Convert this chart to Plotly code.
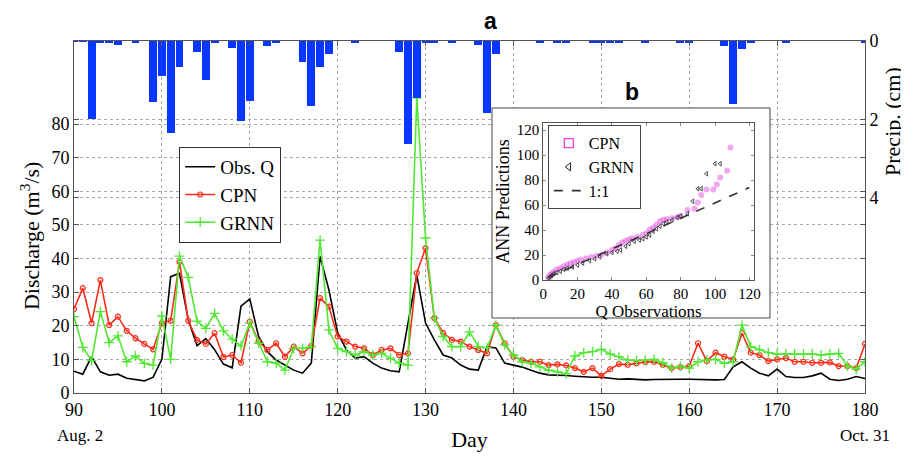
import plotly.graph_objects as go

# ---------------- data ----------------
days = list(range(90, 181))

obs_q = [6.5, 5.6, 10.8, 6.3, 5.3, 5.6, 4.4, 4.1, 3.6, 4.7,
         10.0, 34.6, 35.6, 21.8, 14.1, 16.2, 12.9, 8.6, 7.5, 25.8,
         28.0, 16.8, 12.3, 9.8, 8.3, 6.8, 5.9, 8.9, 40.6, 30.7,
         17.9, 12.8, 10.4, 10.8, 8.9, 7.4, 6.6, 6.3, 20.8, 35.1,
         20.8, 15.8, 11.3, 10.4, 8.3, 7.1, 6.8, 13.8, 13.4, 8.9,
         8.3, 7.7, 6.8, 5.9, 5.4, 5.4, 5.2, 5.0, 4.8, 4.7,
         4.7, 4.4, 4.1, 4.2, 4.0, 3.9, 4.0, 4.1, 4.1, 4.1,
         4.1, 4.0, 4.0, 3.9, 4.0, 7.8, 9.3, 7.4, 5.9, 5.1,
         7.1, 4.9, 4.6, 4.6, 5.1, 5.9, 4.1, 3.7, 4.1, 4.9,
         4.3]

cpn = [25.0, 31.2, 20.8, 33.6, 20.2, 22.7, 18.5, 16.3, 14.6, 13.0,
       20.8, 21.5, 39.0, 21.5, 15.8, 14.6, 17.8, 10.7, 11.3, 9.0,
       21.2, 15.3, 12.8, 14.8, 10.8, 13.8, 11.8, 14.0, 28.2, 25.7,
       16.8, 15.3, 13.8, 13.3, 11.3, 12.8, 13.3, 11.3, 11.8, 35.7,
       43.1, 22.3, 17.9, 15.8, 15.3, 13.8, 12.8, 11.8, 20.2, 14.8,
       10.8, 9.8, 9.3, 9.3, 8.3, 8.5, 8.2, 7.4, 6.3, 7.4,
       5.1, 7.1, 8.6, 8.4, 8.8, 9.2, 9.3, 8.4, 7.4, 7.7,
       8.0, 14.8, 9.5, 12.0, 10.8, 10.0, 17.8, 12.0, 11.3, 9.5,
       10.0, 10.4, 9.3, 9.3, 9.0, 9.0, 9.1, 8.0, 8.0, 7.4,
       14.6]

grnn = [22.7, 13.6, 9.6, 24.2, 15.0, 17.0, 9.3, 11.0, 8.8, 8.3,
        22.9, 10.0, 40.7, 34.4, 21.4, 19.2, 23.7, 18.5, 16.0, 14.0,
        20.8, 14.8, 9.3, 8.9, 6.8, 13.3, 13.3, 13.7, 45.5, 18.8,
        13.3, 12.3, 11.3, 12.3, 11.3, 11.8, 10.4, 8.9, 8.3, 87.8,
        46.1, 22.3, 16.8, 13.8, 13.8, 18.2, 13.8, 13.4, 20.2, 14.3,
        11.3, 9.3, 8.9, 7.8, 6.8, 6.3, 5.7, 11.0, 12.0, 12.3,
        13.0, 11.6, 10.8, 9.8, 9.6, 9.8, 10.0, 9.0, 7.4, 7.9,
        7.4, 9.3, 9.8, 10.0, 8.8, 9.3, 20.2, 13.8, 12.8, 12.0,
        11.6, 11.6, 11.6, 11.6, 11.6, 11.3, 11.6, 11.8, 8.0, 7.1,
        9.3]

precip = [0.02, 0.02, 2.0, 0.03, 0.03, 0.10, 0.0, 0.03, 0.0, 1.55,
          0.89, 2.36, 0.67, 0.0, 0.29, 1.0, 0.04, 0.0, 0.17, 2.05,
          1.53, 0.0, 0.13, 0.05, 0.0, 0.0, 0.53, 1.67, 0.67, 0.34,
          0.0, 0.0, 0.04, 0.0, 0.0, 0.0, 0.0, 0.27, 2.64, 1.47,
          0.04, 0.04, 0.0, 0.04, 0.0, 0.0, 0.09, 1.85, 0.33, 0.0,
          0.0, 0.0, 0.0, 0.03, 0.0, 0.03, 0.03, 0.0, 0.0, 0.03,
          0.03, 0.03, 0.03, 0.0, 0.0, 0.03, 0.0, 0.0, 0.0, 0.03,
          0.03, 0.0, 0.0, 0.0, 0.13, 1.62, 0.21, 0.03, 0.0, 0.0,
          0.0, 0.03, 0.0, 0.0, 0.0, 0.0, 0.0, 0.0, 0.0, 0.0,
          0.03]

x_ticks = list(range(90, 181, 10))
q_ticks = list(range(0, 81, 10))
p_ticks = [0, 2, 4]

# inset (b): Q-Q comparison
cpn_obs = [3, 4, 5, 6, 8, 10, 12, 14, 16, 18, 20, 22, 25, 28, 31, 34, 37, 40, 42, 44,
           46, 48, 50, 52, 55, 58, 60, 62, 64, 66, 68, 70, 72, 75, 78, 80, 84, 88, 90, 92,
           95, 99, 101, 103, 107, 109]
cpn_pred = [2.5, 4, 5, 6.5, 8.5, 9.5, 11, 12.5, 13.5, 14.5, 15.5, 16.3, 17.5, 18.5, 19.5, 20.5,
            22, 24, 25.5, 28, 30, 31.5, 32.5, 33.5, 34.5, 36, 37.5, 40.5, 42, 44.5, 47, 48.3,
            48.8, 49.5, 50.5, 51.5, 56, 57, 62, 68, 72.5, 72.5, 76.5, 82, 87.5, 106]
grnn_obs = [3, 4, 5, 6, 8, 10, 12, 14, 17, 20, 23, 27, 30, 33, 37, 40, 43, 45, 48, 50,
            53, 56, 58, 60, 62, 64, 66, 68, 70, 72, 75, 78, 80, 84, 87, 90, 92, 95, 100, 103]
grnn_pred = [1.5, 2.5, 3.5, 5, 6, 7, 8.5, 9.5, 10.5, 12, 13.5, 15.5, 17, 18.5, 21, 22, 23, 24,
             27, 29, 31, 32, 33, 34.5, 36, 39, 41, 43, 45, 46.5, 48, 50, 51, 53, 63, 73, 73,
             85, 93, 93]
ref_x = [3, 120]
ref_y = [2, 74]
inset_ticks = list(range(0, 121, 20))

# ---------------- style ----------------
SERIF = "Liberation Serif, Times New Roman, serif"
SANS = "Liberation Sans, Arial, sans-serif"
RED = "rgb(250,45,25)"
GREEN = "rgb(80,232,50)"
BLUE = "rgb(10,55,255)"
GRID = "#a8a8a8"
FRAME = "#555555"

fig = go.Figure()

fig.add_trace(go.Bar(x=days, y=precip, yaxis="y2", marker=dict(color=BLUE, line=dict(width=0)),
                     width=0.9, showlegend=False))

fig.add_trace(go.Scatter(x=days, y=obs_q, mode="lines", name="Obs. Q",
                         line=dict(color="black", width=1.6)))
fig.add_trace(go.Scatter(x=days, y=cpn, mode="lines+markers", name="CPN",
                         line=dict(color=RED, width=1.6),
                         marker=dict(symbol="circle-open", size=5, color=RED, line=dict(width=1.2))))
fig.add_trace(go.Scatter(x=days, y=grnn, mode="lines+markers", name="GRNN",
                         line=dict(color=GREEN, width=1.6),
                         marker=dict(symbol="cross-thin", size=7, color=GREEN,
                                     line=dict(width=1.3, color=GREEN))))

# inset traces
fig.add_trace(go.Scatter(x=cpn_obs, y=cpn_pred, mode="markers", xaxis="x3", yaxis="y3",
                         marker=dict(symbol="circle", size=6, color="rgba(225,80,225,0.5)"),
                         showlegend=False))
fig.add_trace(go.Scatter(x=grnn_obs, y=grnn_pred, mode="markers", xaxis="x3", yaxis="y3",
                         marker=dict(symbol="triangle-left-open", size=4, color="rgba(40,40,40,0.8)",
                                     line=dict(width=1)),
                         showlegend=False))
# legend entries for inset
fig.add_trace(go.Scatter(x=[None], y=[None], mode="markers", xaxis="x3", yaxis="y3", name="CPN",
                         marker=dict(symbol="square-open", size=9, color="rgb(255,60,220)",
                                     line=dict(width=1.3)), legend="legend2"))
fig.add_trace(go.Scatter(x=[None], y=[None], mode="markers", xaxis="x3", yaxis="y3", name="GRNN",
                         marker=dict(symbol="triangle-left-open", size=7, color="#222222",
                                     line=dict(width=1)), legend="legend2"))
fig.add_trace(go.Scatter(x=ref_x, y=ref_y, mode="lines", xaxis="x3", yaxis="y3", name="1:1",
                         line=dict(color="#333333", width=1.6, dash="dash"), legend="legend2"))

axis_common = dict(showline=True, linecolor=FRAME, linewidth=1, ticks="inside", ticklen=5,
                   tickcolor=FRAME, mirror="ticks", zeroline=False)

fig.update_layout(
    width=909, height=458,
    margin=dict(l=66, r=52, t=33, b=73, autoexpand=False),
    paper_bgcolor="white", plot_bgcolor="white",
    font=dict(family=SERIF, color="black", size=18),
    bargap=0,
    xaxis=dict(range=[90, 180], tickvals=x_ticks, showgrid=True, gridcolor=GRID, griddash="dot",
               gridwidth=1, tickfont=dict(size=18),
               title=dict(text="Day", font=dict(size=22), standoff=13), **axis_common),
    yaxis=dict(range=[0, 104.7], tickvals=q_ticks, showgrid=True, gridcolor=GRID, griddash="dot",
               gridwidth=1, tickfont=dict(size=18), **axis_common),
    yaxis2=dict(overlaying="y", side="right", range=[9.0, 0], tickvals=p_ticks, showgrid=True,
                gridcolor=GRID, griddash="dot", gridwidth=1, tickfont=dict(size=18),
                **axis_common),
    xaxis3=dict(domain=[0.5932, 0.8597], anchor="y3", range=[0, 122.7], tickvals=inset_ticks,
                showgrid=False, tickfont=dict(size=15), ticklen=3,
                title=dict(text="Q Observations", font=dict(size=17), standoff=0),
                showline=True, linecolor=FRAME, ticks="inside", tickcolor="#888", mirror="ticks",
                zeroline=False),
    yaxis3=dict(domain=[0.321, 0.767], anchor="x3", range=[0, 125.6], tickvals=inset_ticks,
                showgrid=False, tickfont=dict(size=15), ticklen=3,
                title=dict(text="ANN Predictions", font=dict(size=18), standoff=2),
                showline=True, linecolor=FRAME, ticks="inside", tickcolor="#888", mirror="ticks",
                zeroline=False),
    legend=dict(x=0.133, y=0.699, xanchor="left", yanchor="top", bgcolor="white",
                bordercolor="#333333", borderwidth=1, font=dict(family=SERIF, size=19),
                tracegroupgap=0),
    legend2=dict(x=0.599, y=0.761, xanchor="left", yanchor="top", bgcolor="white",
                 bordercolor="#444444", borderwidth=1, font=dict(family=SERIF, size=16),
                 tracegroupgap=0, traceorder="normal"),
    shapes=[dict(type="rect", xref="x", yref="y", x0=137.56, x1=169.19,
                 y0=22.31, y1=84.78, fillcolor="white", line=dict(color="#444444", width=1),
                 layer="between")],
    annotations=[
        dict(text="<b>a</b>", xref="paper", yref="paper", x=0.526, y=1.09375, showarrow=False,
             font=dict(family=SANS, size=23), xanchor="center", yanchor="top",
             borderpad=0, borderwidth=0),
        dict(text="<b>b</b>", xref="paper", yref="paper", x=0.706, y=0.855, showarrow=False,
             font=dict(family=SANS, size=23), xanchor="center", yanchor="middle"),
        dict(text="Aug. 2", xref="x", yref="paper", x=90, y=-0.122, xshift=6, showarrow=False,
             font=dict(family=SERIF, size=17), xanchor="center", yanchor="middle"),
        dict(text="Oct. 31", xref="x", yref="paper", x=180, y=-0.122, showarrow=False,
             font=dict(family=SERIF, size=17), xanchor="center", yanchor="middle"),
        dict(text="Discharge (m<sup>3</sup>/s)", xref="paper", yref="paper", x=-0.0556, y=0.446,
             textangle=-90, showarrow=False, font=dict(family=SERIF, size=22),
             xanchor="center", yanchor="middle", borderpad=0),
        dict(text="Precip. (cm)", xref="paper", yref="paper", x=1.0354, y=0.770,
             textangle=-90, showarrow=False, font=dict(family=SERIF, size=22),
             xanchor="center", yanchor="middle", borderpad=0),
    ],
)

fig.write_html("out.html")
